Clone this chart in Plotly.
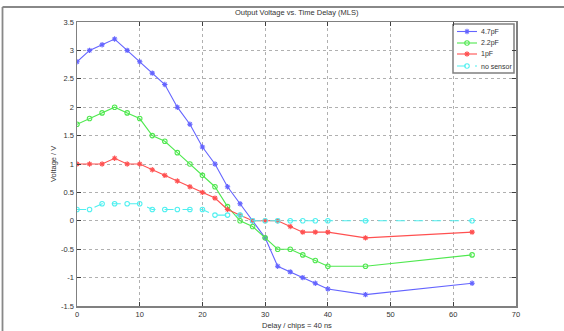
import plotly.graph_objects as go

delay = [0, 2, 4, 6, 8, 10, 12, 14, 16, 18, 20, 22, 24, 26, 28, 30, 32, 34, 36, 38, 40, 46, 63]
v_47pF = [2.8, 3.0, 3.1, 3.2, 3.0, 2.8, 2.6, 2.4, 2.0, 1.7, 1.3, 1.0, 0.6, 0.3, 0.0, -0.3, -0.8, -0.9, -1.0, -1.1, -1.2, -1.3, -1.1]
v_22pF = [1.7, 1.8, 1.9, 2.0, 1.9, 1.8, 1.5, 1.4, 1.2, 1.0, 0.8, 0.6, 0.25, 0.0, -0.1, -0.3, -0.5, -0.5, -0.6, -0.7, -0.8, -0.8, -0.6]
v_1pF = [1.0, 1.0, 1.0, 1.1, 1.0, 1.0, 0.9, 0.8, 0.7, 0.6, 0.5, 0.4, 0.2, 0.1, 0.0, 0.0, 0.0, -0.1, -0.2, -0.2, -0.2, -0.3, -0.2]
v_none = [0.2, 0.2, 0.3, 0.3, 0.3, 0.3, 0.2, 0.2, 0.2, 0.2, 0.2, 0.1, 0.1, 0.1, 0.0, 0.0, 0.0, 0.0, 0.0, 0.0, 0.0, 0.0, 0.0]
series_names = ["4.7pF", "2.2pF", "1pF", "no sensor"]
x_ticks = [0, 10, 20, 30, 40, 50, 60, 70]
y_ticks = [-1.5, -1, -0.5, 0, 0.5, 1, 1.5, 2, 2.5, 3, 3.5]

W, H = 564, 331
L, R, T, B = 77, 516, 22, 306

FONT = "Liberation Sans, Arial, sans-serif"
TXT = "#333333"

fig = go.Figure()
styles = [
    (v_47pF, "#6464ff", "asterisk-open", "solid"),
    (v_22pF, "#4fe84f", "circle-open", "solid"),
    (v_1pF, "#ff5050", "asterisk-open", "solid"),
    (v_none, "#4ff0f0", "circle-open", "dash"),
]
for name, (vals, col, sym, dash) in zip(series_names, styles):
    fig.add_trace(go.Scatter(
        x=delay, y=vals, name=name, mode="lines+markers", showlegend=False,
        line=dict(color=col, width=1.1, dash=dash),
        marker=dict(symbol=sym, size=4.5, color=col, line=dict(color=col, width=1.1)),
    ))

axis_common = dict(
    showgrid=True, gridcolor="#b0b0b0", griddash="dot", gridwidth=1,
    showline=True, linecolor="#808080", linewidth=1.5, mirror="allticks",
    ticks="inside", ticklen=4, tickcolor="#404040", tickwidth=1,
    tickfont=dict(family=FONT, size=7.5, color=TXT),
    zeroline=False,
)
fig.update_xaxes(range=[0, 70], tickvals=x_ticks, **axis_common)
fig.update_yaxes(range=[-1.5, 3.5], tickvals=y_ticks,
                 ticktext=[("%g" % v) for v in y_ticks], **axis_common)

pw, ph = R - L, B - T
def px(xp):
    return (xp - L) / pw
def py(yp):
    return (B - yp) / ph

# hidden pixel-space overlay axes used only for the legend box
fig.update_layout(
    xaxis2=dict(overlaying="x", range=[L, R], visible=False, fixedrange=True),
    yaxis2=dict(overlaying="y", range=[B, T], visible=False, fixedrange=True),
)

LEG_X0, LEG_X1, LEG_Y0, LEG_Y1 = 453, 514, 24, 73
fig.add_trace(go.Scatter(
    x=[LEG_X0, LEG_X1, LEG_X1, LEG_X0, LEG_X0],
    y=[LEG_Y0, LEG_Y0, LEG_Y1, LEG_Y1, LEG_Y0],
    mode="lines", fill="toself", fillcolor="white", xaxis="x2", yaxis="y2",
    showlegend=False, hoverinfo="skip",
    line=dict(color="#808080", width=1.5),
))

leg_rows = [31.5, 43, 54, 66]
annotations = []
for (name, (vals, col, sym, dash)), ly in zip(zip(series_names, styles), leg_rows):
    fig.add_trace(go.Scatter(
        x=[457, 477], y=[ly, ly], mode="lines", xaxis="x2", yaxis="y2",
        showlegend=False, hoverinfo="skip",
        line=dict(color=col, width=1.1, dash=dash),
    ))
    fig.add_trace(go.Scatter(
        x=[467], y=[ly], mode="markers", xaxis="x2", yaxis="y2",
        showlegend=False, hoverinfo="skip",
        marker=dict(symbol=sym, size=4.5, color=col, line=dict(color=col, width=1.1)),
    ))
    annotations.append(dict(
        text=name, x=px(479), y=py(ly), xref="paper", yref="paper",
        xanchor="left", yanchor="middle", showarrow=False,
        font=dict(family=FONT, size=7, color=TXT)))

annotations += [
    dict(text="Output Voltage vs. Time Delay (MLS)", x=0.5, y=py(13),
         xref="paper", yref="paper", showarrow=False,
         xanchor="center", yanchor="middle",
         font=dict(family=FONT, size=7.5, color=TXT)),
    dict(text="Delay / chips = 40 ns", x=0.5, y=py(325),
         xref="paper", yref="paper", showarrow=False,
         xanchor="center", yanchor="middle",
         font=dict(family=FONT, size=7.5, color=TXT)),
    dict(text="Voltage / V", x=px(53), y=0.5, textangle=-90,
         xref="paper", yref="paper", showarrow=False,
         xanchor="center", yanchor="middle",
         font=dict(family=FONT, size=7.5, color=TXT)),
]

fig.update_layout(
    width=W, height=H,
    margin=dict(l=L, r=W - R, t=T, b=H - B, pad=0),
    paper_bgcolor="white", plot_bgcolor="white",
    showlegend=False,
    annotations=annotations,
    shapes=[
        dict(type="line", xref="paper", yref="paper",
             x0=px(2.5), x1=px(W + 2), y0=py(7), y1=py(7),
             line=dict(color="#888888", width=1.8)),
        dict(type="line", xref="paper", yref="paper",
             x0=px(2.5), x1=px(2.5), y0=py(7), y1=py(H + 2),
             line=dict(color="#888888", width=1.8)),
    ],
)

fig.write_html("out.html", config={"displayModeBar": False, "staticPlot": True},
               post_script="document.body.style.margin='0';document.body.style.overflow='hidden';")
